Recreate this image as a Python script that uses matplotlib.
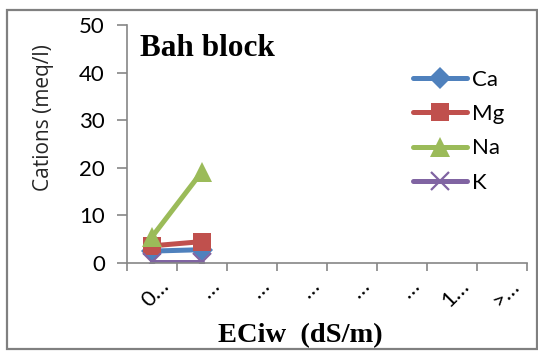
import numpy as np
import matplotlib
matplotlib.use("Agg")
import matplotlib.pyplot as plt
from matplotlib.patches import Rectangle

# EC classes of irrigation water (category labels as printed, truncated)
ec_labels = ["0…", "…", "…", "…", "…", "…", "1…", ">…"]

# Cation concentrations (meq/l) per EC class; only the first two classes have samples
ca = [2.5, 2.8, np.nan, np.nan, np.nan, np.nan, np.nan, np.nan]
mg = [3.6, 4.5, np.nan, np.nan, np.nan, np.nan, np.nan, np.nan]
na = [5.5, 19.2, np.nan, np.nan, np.nan, np.nan, np.nan, np.nan]
k = [0.2, 0.2, np.nan, np.nan, np.nan, np.nan, np.nan, np.nan]

series = [
    ("Ca", ca, "#4F81BD", "D", 11),
    ("Mg", mg, "#C0504D", "s", 13.5),
    ("Na", na, "#9BBB59", "^", 14),
    ("K", k, "#8064A2", "x", 13),
]

SANS = "Lato"
SERIF = "Liberation Serif"

W, H, DPI = 538, 351, 100
fig = plt.figure(figsize=(W / DPI, H / DPI), dpi=DPI)
fig.patch.set_facecolor("white")

def fx(px):
    return px / W

def fy(py):
    return 1 - py / H

# outer chart frame
fig.patches.append(Rectangle((fx(7), fy(349)), 530 / W, 339 / H, transform=fig.transFigure,
                             fill=False, edgecolor="#808080", linewidth=1.6))

ax = fig.add_axes([fx(127), fy(263), 400 / W, 238 / H])
x = np.arange(len(ec_labels))

for name, vals, color, marker, ms in series:
    kw = dict(color=color, linewidth=3.6, marker=marker, markersize=ms, label=name,
              markerfacecolor=color, markeredgecolor=color, solid_capstyle="round")
    kw["markeredgewidth"] = 1.6 if marker == "x" else 0
    ax.plot(x, vals, **kw)

ax.set_xlim(-0.5, len(ec_labels) - 0.5)
ax.set_ylim(0, 50)
ax.set_yticks(range(0, 51, 10))

# category labels: rotated text whose end sits a little right of each category centre
ax.set_xticks(x + 0.28)
ax.set_xticklabels(ec_labels, rotation=45, ha="right", va="center", rotation_mode="anchor",
                   fontsize=16, family=SANS)
ax.set_xticks(np.arange(-0.5, len(ec_labels), 1.0), minor=True)
ax.tick_params(axis="x", which="major", length=0, pad=14)
ax.tick_params(axis="x", which="minor", length=6, color="#868686", width=1.2)
ax.tick_params(axis="y", length=7, color="#868686", width=1.2, labelsize=16, pad=9)
for lab in ax.get_yticklabels():
    lab.set_family(SANS)

for s in ("top", "right"):
    ax.spines[s].set_visible(False)
for s in ("left", "bottom"):
    ax.spines[s].set_color("#868686")
    ax.spines[s].set_linewidth(1.2)

fig.text(fx(44), fy(118), "Cations (meq/l)", rotation=90, ha="center", va="center",
         fontsize=15, family="Open Sans", color="#262626")
fig.text(fx(300), fy(342), "ECiw  (dS/m)", ha="center", va="baseline",
         fontsize=20.5, fontweight="bold", family=SERIF)
fig.text(fx(140), fy(56), "Bah block", ha="left", va="baseline",
         fontsize=22.5, fontweight="bold", family=SERIF)

leg = ax.legend(loc="upper left", bbox_to_anchor=(fx(413), fy(70)), bbox_transform=fig.transFigure,
                frameon=False, handlelength=2.45, handletextpad=0.2, labelspacing=0.64,
                borderpad=0, borderaxespad=0, prop={"family": SANS, "size": 16})

fig.savefig("out.png", dpi=DPI)
